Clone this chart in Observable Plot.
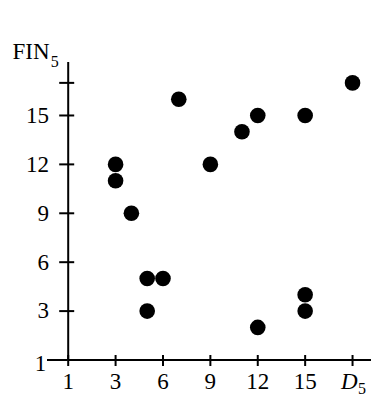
<!DOCTYPE html>
<html><head><meta charset="utf-8">
<script src="https://cdn.jsdelivr.net/npm/d3@7"></script>
<script src="https://cdn.jsdelivr.net/npm/@observablehq/plot@0.6"></script>
<style>body{margin:0;background:#fff} svg text{font-family:"Liberation Serif","Times New Roman",serif}</style>
</head><body><div id="chart"></div>
<script>
// data
const d5   = [3, 3, 4, 5, 6, 5, 7, 9, 11, 12, 12, 15, 15, 15, 18];
const fin5 = [12, 11, 9, 5, 5, 3, 16, 12, 14, 15, 2, 15, 4, 3, 17];
// ticks
const xTicks = [0, 3, 6, 9, 12, 15, 18];
const xTickLabels = ["1", "3", "6", "9", "12", "15", ""];
const yTicks = [3, 6, 9, 12, 15, 17];
const yTickLabels = ["3", "6", "9", "12", "15", ""];
const yOriginTick = [0];
const yOriginLabel = ["1"];
// axis titles
const xTitle = "D", xTitleSub = "5";
const yTitle = "FIN", yTitleSub = "5";

const points = d5.map((x, i) => ({x, y: fin5[i]}));
const xLab = new Map(xTicks.map((t, i) => [t, xTickLabels[i]]));
const yLab = new Map(yTicks.map((t, i) => [t, yTickLabels[i]]));
const font = "Liberation Serif";
const fs = 23;

const chart = Plot.plot({
  width: 371, height: 398,
  marginLeft: 67.7, marginRight: 0, marginTop: 62, marginBottom: 38.5,
  style: {fontFamily: font, fontSize: fs + "px", color: "black", background: "white"},
  x: {domain: [0, 19.2], axis: null},
  y: {domain: [0, 18.25], axis: null},
  marks: [
    Plot.ruleY([0], {stroke: "black", strokeWidth: 2}),
    Plot.ruleX([0], {stroke: "black", strokeWidth: 2}),
    Plot.axisX({ticks: xTicks, tickFormat: d => xLab.get(d), label: null, tickSize: 11, dy: -4.5, tickPadding: 5.8, strokeWidth: 2, fontSize: fs, fontFamily: font}),
    Plot.axisY({ticks: yTicks, tickFormat: d => yLab.get(d), label: null, tickSize: 15, dx: 6.5, tickPadding: 10.6, strokeWidth: 2, fontSize: fs, fontFamily: font}),
    Plot.axisY({ticks: yOriginTick, tickFormat: () => "", label: null, tickSize: 20.7, strokeWidth: 2}),
    Plot.text(yOriginTick, {y: d => d, frameAnchor: "left", text: (d, i) => yOriginLabel[i], textAnchor: "end", dx: -22, dy: 4, fontSize: fs, fontFamily: font}),
    Plot.dot(points, {x: "x", y: "y", r: 7.8, fill: "black", stroke: null}),
    Plot.text([xTitle], {text: d => d, frameAnchor: "bottom-right", textAnchor: "end", lineAnchor: "bottom", dx: -14, dy: 28.8, fontSize: fs, fontStyle: "italic", fontFamily: font}),
    Plot.text([xTitleSub], {text: d => d, frameAnchor: "bottom-right", textAnchor: "start", lineAnchor: "bottom", dx: -13.5, dy: 33.5, fontSize: 16, fontFamily: font}),
    Plot.text([yTitle], {text: d => d, frameAnchor: "top-left", textAnchor: "start", lineAnchor: "bottom", dx: -55.7, dy: -4, fontSize: fs, fontFamily: font}),
    Plot.text([yTitleSub], {text: d => d, frameAnchor: "top-left", textAnchor: "start", lineAnchor: "bottom", dx: -17.5, dy: 4.5, fontSize: 16, fontFamily: font})
  ]
});
document.getElementById("chart").appendChild(chart);
</script>
</body></html>
